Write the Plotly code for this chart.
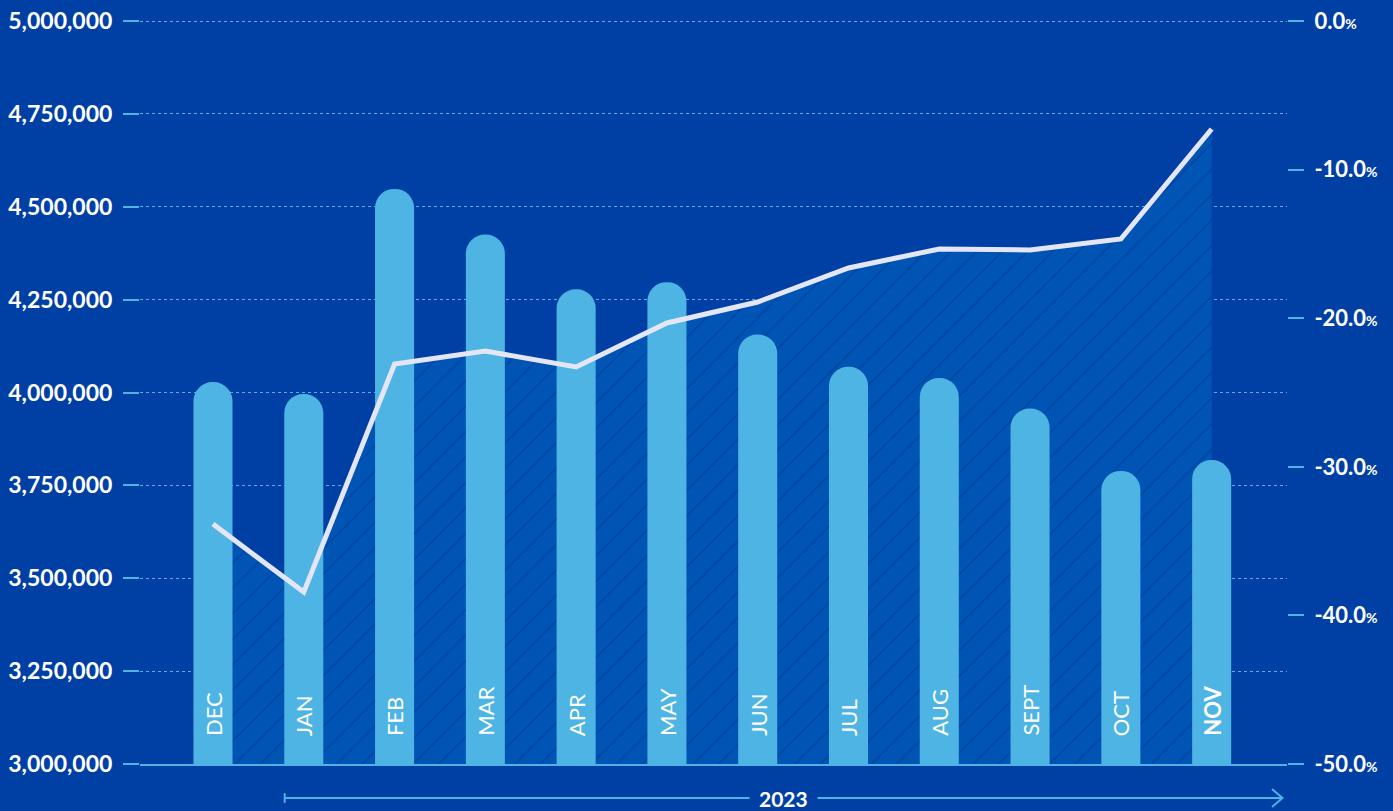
import plotly.graph_objects as go

# Monthly totals (bars, left axis) and year-over-year change (line, right axis)
months = ["DEC", "JAN", "FEB", "MAR", "APR", "MAY", "JUN", "JUL", "AUG", "SEPT", "OCT", "NOV"]
totals = [4028000, 3996000, 4548000, 4425000, 4278000, 4297000, 4156000, 4069000, 4039000, 3957000, 3789000, 3818000]
change_pct = [-33.85, -38.43, -23.08, -22.21, -23.28, -20.32, -18.91, -16.62, -15.34, -15.41, -14.67, -7.27]

left_ticks = [3000000, 3250000, 3500000, 3750000, 4000000, 4250000, 4500000, 4750000, 5000000]
right_ticks = [0, -10, -20, -30, -40, -50]
year_label = "2023"

BG = "#0040A4"
FILL = "#0055B4"
HATCH = "#003A9A"
BAR = "#4DB4E4"
LINE = "#E4E6F5"
ACCENT = "#4DB4E4"
FONT = "Lato"

W, H = 1393, 811
M_L, M_R, M_T, M_B = 140, 106, 19, 47
plot_h = H - M_T - M_B

# Plotly drops gridlines within 1px of the plot edge, so leave 2px of headroom above the top tick
pad = 2 / (plot_h - 2)
left_range = [min(left_ticks), max(left_ticks) + pad * (max(left_ticks) - min(left_ticks))]
right_range = [min(right_ticks), max(right_ticks) + pad * (max(right_ticks) - min(right_ticks))]

fig = go.Figure()

# Hatched area under the percentage line (drawn on the base axis so it sits beneath the bars)
fig.add_trace(go.Scatter(
    x=months, y=[min(right_ticks)] * len(months), mode="lines",
    line=dict(width=0), hoverinfo="skip", showlegend=False, yaxis="y",
))
fig.add_trace(go.Scatter(
    x=months, y=change_pct, mode="lines", fill="tonexty",
    line=dict(width=0), fillcolor=FILL,
    fillpattern=dict(shape="/", bgcolor=FILL, fgcolor=HATCH, size=18, solidity=0.12),
    hoverinfo="skip", showlegend=False, yaxis="y",
))

# Rounded bars
fig.add_trace(go.Bar(
    x=months, y=totals, width=0.43, marker=dict(color=BAR, cornerradius="50%", line=dict(width=0)),
    showlegend=False, yaxis="y2",
))

# Percentage line on top
fig.add_trace(go.Scatter(
    x=months, y=change_pct, mode="lines",
    line=dict(color=LINE, width=5), showlegend=False, yaxis="y3",
))

# Month labels written up the inside of each bar
annotations = []
for i, m in enumerate(months):
    label = f"<b>{m}</b>" if i == len(months) - 1 else m
    annotations.append(dict(
        x=m, y=left_ticks[0], xref="x", yref="y2", text=label, textangle=-90,
        showarrow=False, xanchor="center", yanchor="bottom", yshift=26,
        font=dict(family=FONT, size=22, color="white"),
    ))

# Year span arrow under the axis
x_start = 0.79
x_end = 11.78
y_arrow = -34 / plot_h
annotations.append(dict(
    x=(x_start + x_end) / 2, y=y_arrow, xref="x", yref="paper", text=f"<b>{year_label}</b>",
    showarrow=False, xanchor="center", yanchor="middle", bgcolor=BG, borderpad=9,
    font=dict(family=FONT, size=21, color="white"),
))

shapes = [
    dict(type="line", xref="x", yref="paper", x0=x_start, x1=x_end, y0=y_arrow, y1=y_arrow,
         line=dict(color=ACCENT, width=2), layer="below"),
    dict(type="line", xref="x", yref="paper", x0=x_start, x1=x_start, y0=y_arrow - 0.0065, y1=y_arrow + 0.0065,
         line=dict(color=ACCENT, width=2)),
    dict(type="path", xref="x", yref="paper",
         path=f"M {x_end - 0.115} {y_arrow + 0.0121} L {x_end} {y_arrow} L {x_end - 0.115} {y_arrow - 0.0121}",
         line=dict(color=ACCENT, width=2)),
]

pct_text = [f"{v:.1f}<span style='font-size:14px'>%</span>" for v in right_ticks]

fig.update_layout(
    width=W, height=H,
    margin=dict(l=M_L, r=M_R, t=M_T, b=M_B, autoexpand=False),
    paper_bgcolor=BG, plot_bgcolor=BG,
    font=dict(family=FONT, color="white"),
    bargap=0.57,
    xaxis=dict(
        type="category", categoryorder="array", categoryarray=months,
        range=[-0.804, 11.83], showticklabels=False, ticks="",
        showgrid=False, showline=True, linecolor=ACCENT, linewidth=2, zeroline=False,
        automargin=False,
    ),
    yaxis=dict(
        side="right", range=right_range, tickvals=right_ticks, ticktext=pct_text,
        showgrid=False, zeroline=False, ticks="outside", ticklen=16, tickwidth=2,
        tickcolor=ACCENT, ticklabelstandoff=6, automargin=False,
        tickfont=dict(family=FONT, size=22, color="white", weight="bold"),
    ),
    yaxis2=dict(
        overlaying="y", side="left", range=left_range, tickvals=left_ticks,
        tickformat=",d", showgrid=True, gridcolor=ACCENT, griddash="dot", gridwidth=1,
        zeroline=False, ticks="outside", ticklen=16, tickwidth=2, tickcolor=ACCENT,
        ticklabelstandoff=6, automargin=False,
        tickfont=dict(family=FONT, size=23, color="white", weight="bold"),
    ),
    yaxis3=dict(
        overlaying="y", range=right_range, visible=False,
    ),
    annotations=annotations,
    shapes=shapes,
)

fig.write_html("out.html")
